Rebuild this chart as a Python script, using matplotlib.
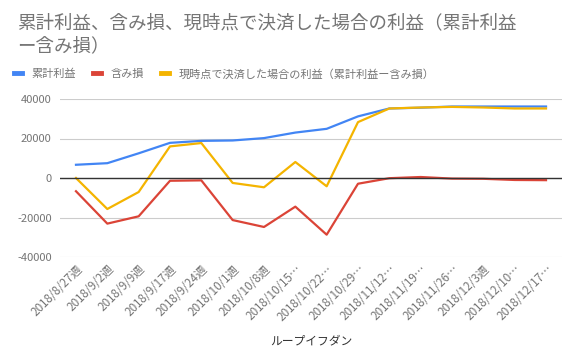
import matplotlib.pyplot as plt # For plotting
import numpy as np # For numerical operations

plt.rcParams['font.family'] = ['Noto Sans CJK JP', 'DejaVu Sans'] # Japanese font first

# Weekly labels (as shown, truncated ones keep the ellipsis)
weeks = ["2018/8/27週", "2018/9/2週", "2018/9/9週", "2018/9/17週", "2018/9/24週",
         "2018/10/1週", "2018/10/8週", "2018/10/15…", "2018/10/22…", "2018/10/29…",
         "2018/11/12…", "2018/11/19…", "2018/11/26…", "2018/12/3週", "2018/12/10…",
         "2018/12/17…"]
cumulative = [6700, 7500, 12500, 17800, 18800, 19000, 20200, 23000, 24900, 31200,
              35200, 35600, 36200, 36200, 36200, 36200] # 累計利益
unrealized = [-6700, -23100, -19400, -1400, -1200, -21300, -24800, -14500, -28700, -2900,
              -100, 500, -300, -400, -1000, -1100] # 含み損
settled = [0, -15700, -7100, 16000, 17700, -2500, -4700, 8100, -4200, 28300,
           35200, 35700, 36000, 35700, 35200, 35200] # 現時点で決済した場合の利益
yticks = [-40000, -20000, 0, 20000, 40000]

BLUE = "#4285F4"
RED = "#DB4437"
YELLOW = "#F4B400"
TEXT_GRAY = "#757575"

fig = plt.figure(figsize=(5.74, 3.62), dpi=100) # Create figure
ax = fig.add_axes([60 / 574, 105 / 362, 502 / 574, 158 / 362])

x = np.arange(len(weeks))
ax.plot(x, cumulative, color=BLUE, lw=1.6, label="累計利益")
ax.plot(x, unrealized, color=RED, lw=1.6, label="含み損")
ax.plot(x, settled, color=YELLOW, lw=1.6, label="現時点で決済した場合の利益（累計利益ー含み損）")

ax.set_xlim(-0.51, len(weeks) - 0.49)
ax.set_ylim(-40000, 40000)
ax.set_yticks(yticks)
ax.set_yticklabels([str(v) for v in yticks])
ax.yaxis.grid(True, color="#cccccc", lw=0.8)
ax.axhline(0, color="#333333", lw=1.0)
ax.set_axisbelow(True)
for s in ax.spines.values(): # No frame
    s.set_visible(False)
ax.tick_params(axis='both', length=0, colors=TEXT_GRAY, labelsize=8)
ax.tick_params(axis='y', pad=6)
ax.set_xticks(x)
ax.set_xticklabels(weeks, rotation=45, ha='right', rotation_mode='anchor', fontsize=8.4)
ax.tick_params(axis='x', pad=4)
ax.set_xlabel("ループイフダン", color="#333333", fontsize=8.5, labelpad=8)

# Title on two lines
fig.text(17 / 574, 1 - 23 / 362, "累計利益、含み損、現時点で決済した場合の利益（累計利益",
         color=TEXT_GRAY, fontsize=13.3, va='center', ha='left')
fig.text(17 / 574, 1 - 46 / 362, "ー含み損）",
         color=TEXT_GRAY, fontsize=13.3, va='center', ha='left')
fig.legend(loc='center left', bbox_to_anchor=(4 / 574, 1 - 74 / 362), ncol=3, frameon=False,
           fontsize=8, handlelength=0.7, handletextpad=0.9, columnspacing=1.5,
           labelcolor=TEXT_GRAY)
for h in fig.legends[0].legend_handles: # Thicker legend swatches
    h.set_linewidth(3.5)

plt.savefig("out.png", dpi=100) # Save figure
